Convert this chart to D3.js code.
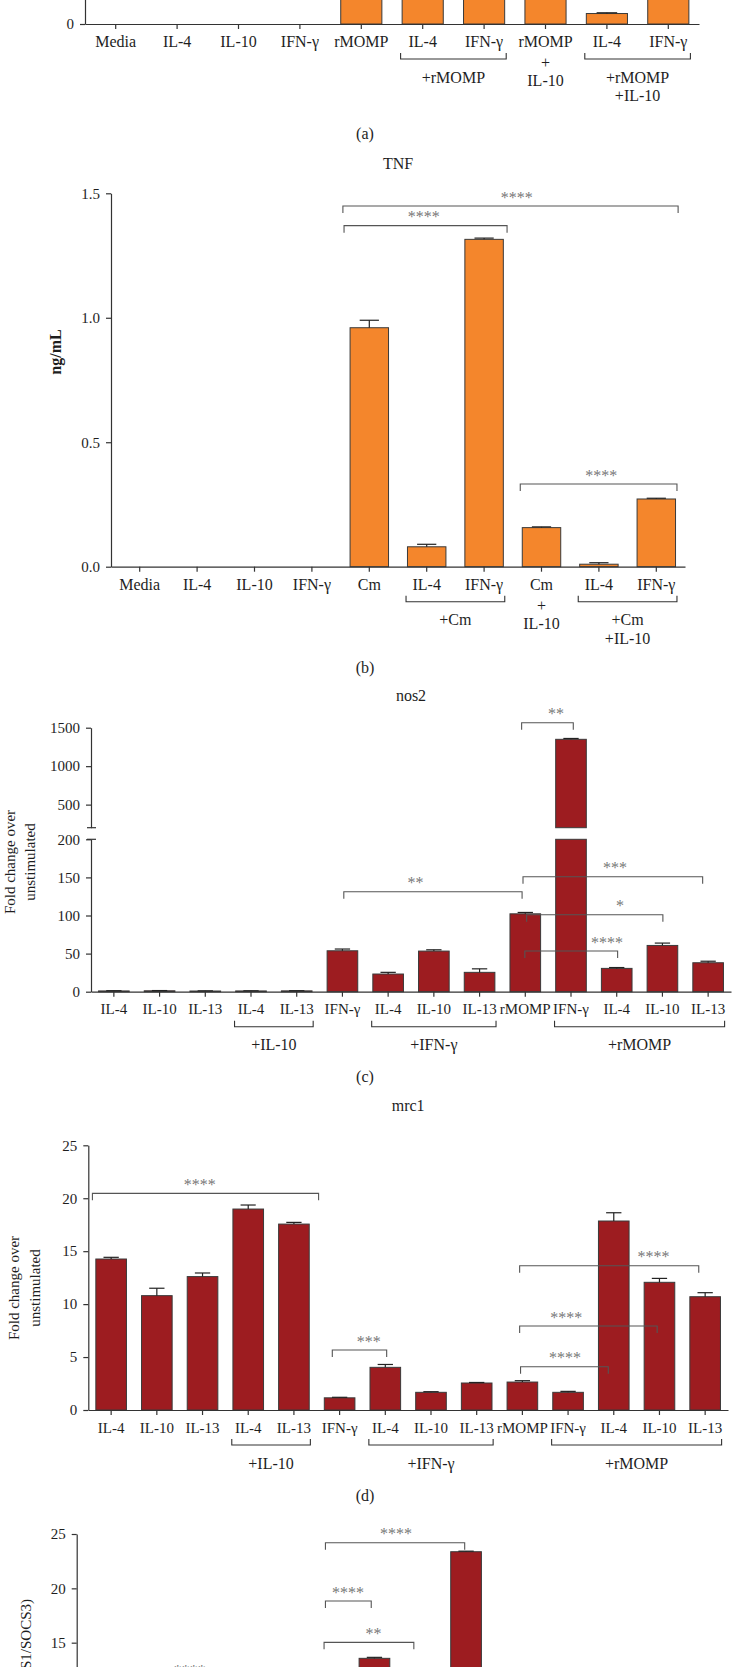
<!DOCTYPE html>
<html><head><meta charset="utf-8">
<script src="https://cdn.jsdelivr.net/npm/d3@7"></script>
<style>
body{margin:0;background:#fff;}
svg{display:block;}
text{font-family:"Liberation Serif","Times New Roman",serif;fill:#1e1e1e;}
</style>
</head><body>
<svg id="chart" width="732" height="1667"></svg>
<script>
// ---------- DATA ----------
// Panel (a) (cropped at top; only baseline region visible)
const catsA = ["Media","IL-4","IL-10","IFN-γ","rMOMP","IL-4","IFN-γ","rMOMP","IL-4","IFN-γ"];
const valsA = [0, 0, 0, 0, 1.10, 1.05, 1.20, 0.95, 0.042, 1.00];
const errsA = [0, 0, 0, 0, 1.12, 1.07, 1.22, 0.97, 0.045, 1.02];
const ticksA = [0];
const groupsA = [
  {from:5, to:6, lines:["+rMOMP"], bracket:true},
  {from:7, to:7, lines:["+","IL-10"], bracket:false},
  {from:8, to:9, lines:["+rMOMP","+IL-10"], bracket:true}
];

// Panel (b) TNF
const catsB = ["Media","IL-4","IL-10","IFN-γ","Cm","IL-4","IFN-γ","Cm","IL-4","IFN-γ"];
const valsB = [0, 0, 0, 0, 0.96, 0.08, 1.315, 0.157, 0.01, 0.272];
const errsB = [0, 0, 0, 0, 0.99, 0.09, 1.32, 0.16, 0.016, 0.275];
const ticksB = [0, 0.5, 1.0, 1.5];
const groupsB = [
  {from:5, to:6, lines:["+Cm"], bracket:true},
  {from:7, to:7, lines:["+","IL-10"], bracket:false},
  {from:8, to:9, lines:["+Cm","+IL-10"], bracket:true}
];
// [fromIndex, toIndex, level, label, labelIndex]
const sigB = [
  [3.54, 9.38, 1.449, "****", 6.57],
  [3.56, 6.40, 1.370, "****", 4.95],
  [6.63, 9.36, 0.332, "****", 8.04]
];

// Panels (c), (d), (e) categories
const catsCD = ["IL-4","IL-10","IL-13","IL-4","IL-13","IFN-γ","IL-4","IL-10","IL-13","rMOMP","IFN-γ","IL-4","IL-10","IL-13"];
const groupsCD = [
  {from:3, to:4, lines:["+IL-10"], bracket:true},
  {from:6, to:8, lines:["+IFN-γ"], bracket:true},
  {from:10, to:13, lines:["+rMOMP"], bracket:true}
];

// Panel (c) nos2 (broken axis)
const valsC = [1.0, 1.2, 0.9, 1.0, 1.1, 53.7, 23.2, 53.3, 25.4, 102.2, 1349, 30.6, 60.7, 38.0];
const errsC = [1.3, 1.5, 1.1, 1.2, 1.3, 56.0, 25.4, 55.0, 30.0, 104.0, 1360, 31.7, 63.8, 40.0];
const ticksCLow = [0, 50, 100, 150, 200];
const ticksCHigh = [500, 1000, 1500];
const sigC = [
  [8.92, 10.05, 1565, "**", 9.67],
  [5.03, 8.93, 131.2, "**", 6.60],
  [8.95, 12.88, 150.9, "***", 10.96],
  [9.03, 12.01, 101.0, "*", 11.07],
  [8.99, 11.02, 53.4, "****", 10.79]
];

// Panel (d) mrc1
const valsD = [14.26, 10.8, 12.6, 18.98, 17.56, 1.15, 4.03, 1.67, 2.55, 2.64, 1.67, 17.85, 12.06, 10.7];
const errsD = [14.42, 11.5, 12.94, 19.36, 17.72, 1.2, 4.3, 1.73, 2.6, 2.77, 1.76, 18.63, 12.43, 11.08];
const ticksD = [0, 5, 10, 15, 20, 25];
const sigD = [
  [-0.41, 4.54, 20.46, "****", 1.94],
  [4.84, 6.03, 5.67, "***", 5.64],
  [8.96, 10.88, 4.09, "****", 9.93],
  [8.94, 11.95, 7.93, "****", 9.96],
  [8.94, 12.86, 13.63, "****", 11.87]
];

// Panel (e) (cropped at bottom; only upper part visible)
const valsE = [null, null, null, null, null, null, 13.56, null, 23.37, null, null, null, null, null];
const errsE = [null, null, null, null, null, null, 13.65, null, 23.42, null, null, null, null, null];
const ticksE = [15, 20, 25];
const sigE = [
  [4.93, 7.97, 24.2, "****", 6.47],
  [4.93, 5.93, 18.83, "****", 5.42],
  [4.90, 6.86, 15.03, "**", 5.98],
  [0.0, 4.0, 11.66, "****", 1.97]
];

// ---------- DRAWING ----------
const FONT = '"Liberation Serif","Times New Roman",serif';
const ORANGE = "#f4862c";
const RED = "#9d1c20";
const H = 1667;
const svg = d3.select("#chart");

function drawPanel(o) {
  const g = svg.append("g");
  const n = o.cats.length;
  const x = d3.scaleBand().domain(d3.range(n)).range([o.x0, o.x1])
    .paddingInner(0.33).paddingOuter(0.165);
  const step = x.step(), bw = x.bandwidth();
  const cx = i => o.x0 + step * (i + 0.5);
  const segs = o.segs;
  segs.forEach(s => s.y = d3.scaleLinear().domain([s.lo, s.hi]).range([s.r0, s.r1]));
  const yOf = v => { const s = segs.find(s => v <= s.hi) || segs[segs.length - 1]; return s.y(v); };
  const base = segs[0].y(0);

  // bars
  o.vals.forEach((v, i) => {
    if (v == null) return;
    segs.forEach(s => {
      if (v <= s.lo) return;
      const top = s.y(Math.min(v, s.hi)), bot = s.y(s.lo);
      g.append("rect").attr("x", x(i)).attr("y", top).attr("width", bw)
        .attr("height", Math.max(0, bot - top))
        .attr("fill", o.color).attr("stroke", "#3a3a3a").attr("stroke-width", 1);
    });
    const e = o.errs[i];
    if (e != null && e > v) {
      const c = x(i) + bw / 2;
      g.append("line").attr("x1", c).attr("x2", c).attr("y1", yOf(v)).attr("y2", yOf(e))
        .attr("stroke", "#222").attr("stroke-width", 1.2);
      g.append("line").attr("x1", c - bw * 0.25).attr("x2", c + bw * 0.25).attr("y1", yOf(e)).attr("y2", yOf(e))
        .attr("stroke", "#222").attr("stroke-width", 1.2);
    }
  });

  // y axis (one per segment)
  segs.forEach(s => {
    const ax = g.append("g").attr("transform", `translate(${o.x0},0)`)
      .call(d3.axisLeft(s.y).tickValues(s.ticks).tickSize(5).tickSizeOuter(0).tickPadding(6)
        .tickFormat(o.fmt));
    ax.attr("font-family", FONT).attr("font-size", 15);
    ax.select(".domain").attr("stroke", "#333").attr("stroke-width", 1.2);
    ax.selectAll(".tick line").attr("stroke", "#333").attr("stroke-width", 1.2);
    ax.selectAll("text").attr("fill", "#1e1e1e");
  });
  if (segs.length > 1) {
    [segs[0].r1, segs[1].r0].forEach(yy => {
      g.append("line").attr("x1", o.x0 - 4).attr("x2", o.x0 + 5).attr("y1", yy).attr("y2", yy)
        .attr("stroke", "#333").attr("stroke-width", 1.2);
    });
  }

  // x axis (only when the baseline is inside the picture)
  if (base < H) {
    const xa = g.append("g").attr("transform", `translate(0,${base})`)
      .call(d3.axisBottom(x).tickFormat(i => o.cats[i]).tickSize(5).tickSizeOuter(0));
    xa.attr("font-family", FONT).attr("font-size", o.catSize || 16);
    xa.select(".domain").attr("stroke", "#333").attr("stroke-width", 1.2);
    xa.selectAll(".tick line").attr("stroke", "#333").attr("stroke-width", 1.2);
    xa.selectAll("text").attr("y", 17.5).attr("dy", "0.35em").attr("fill", "#1e1e1e");
  }

  // group brackets under the axis
  (o.groups || []).forEach(gr => {
    const xl = cx(gr.from) - 0.36 * step, xr = cx(gr.to) + 0.36 * step;
    const mid = (cx(gr.from) + cx(gr.to)) / 2;
    let ys;
    if (gr.bracket) {
      const yb = base + 35;
      g.append("path").attr("d", `M${xl},${yb - 6}V${yb}H${xr}V${yb - 6}`)
        .attr("fill", "none").attr("stroke", "#333").attr("stroke-width", 1.1);
      ys = [base + 53, base + 71.5];
    } else {
      ys = [base + 38.5, base + 56.5];
    }
    gr.lines.forEach((t, k) => {
      g.append("text").attr("x", mid).attr("y", ys[k]).attr("dy", "0.35em")
        .attr("text-anchor", "middle").attr("font-size", 16).text(t);
    });
  });

  // significance brackets
  (o.sig || []).forEach(([a, b, v, lab, lx]) => {
    const xl = cx(a), xr = cx(b), yb = yOf(v);
    g.append("path").attr("d", `M${xl},${yb + 7}V${yb}H${xr}V${yb + 7}`)
      .attr("fill", "none").attr("stroke", "#555").attr("stroke-width", 1.1);
    g.append("text").attr("x", cx(lx)).attr("y", yb - 11).attr("dy", "0.48em")
      .attr("text-anchor", "middle").attr("font-size", 16)
      .style("fill", "#777").text(lab);
  });

  // title
  if (o.title) {
    g.append("text").attr("x", (o.x0 + o.x1) / 2).attr("y", o.titleY).attr("dy", "0.35em")
      .attr("text-anchor", "middle").attr("font-size", 16).text(o.title);
  }
  // y labels
  (o.ylabels || []).forEach(l => {
    g.append("text").attr("transform", `translate(${l.x},${l.y}) rotate(-90)`)
      .attr("dy", "0.35em").attr("text-anchor", l.anchor || "middle")
      .attr("font-size", l.size || 15).attr("font-weight", l.weight || "normal").text(l.text);
  });
  // caption
  if (o.caption) {
    svg.append("text").attr("x", 365).attr("y", o.captionY).attr("dy", "0.35em")
      .attr("text-anchor", "middle").attr("font-size", 16).text(o.caption);
  }
}

drawPanel({
  cats: catsA, vals: valsA, errs: errsA, color: ORANGE,
  x0: 85, x1: 699,
  segs: [{lo: 0, hi: 1.5, r0: 24, r1: -350, ticks: ticksA}],
  fmt: d3.format("d"), groups: groupsA,
  caption: "(a)", captionY: 133
});

drawPanel({
  cats: catsB, vals: valsB, errs: errsB, color: ORANGE,
  x0: 111, x1: 685,
  segs: [{lo: 0, hi: 1.5, r0: 566.7, r1: 193.3, ticks: ticksB}],
  fmt: d3.format(".1f"), groups: groupsB, sig: sigB,
  title: "TNF", titleY: 163,
  ylabels: [{text: "ng/mL", x: 55, y: 352, size: 16, weight: "bold"}],
  caption: "(b)", captionY: 667
});

drawPanel({
  cats: catsCD, vals: valsC, errs: errsC, color: RED, catSize: 15,
  x0: 91, x1: 731,
  segs: [
    {lo: 0, hi: 200, r0: 991.7, r1: 839.3, ticks: ticksCLow},
    {lo: 200, hi: 1500, r0: 827.7, r1: 727.7, ticks: ticksCHigh}
  ],
  fmt: d3.format("d"), groups: groupsCD, sig: sigC,
  title: "nos2", titleY: 695.7,
  ylabels: [{text: "Fold change over", x: 10, y: 862}, {text: "unstimulated", x: 30, y: 862}],
  caption: "(c)", captionY: 1076.7
});

drawPanel({
  cats: catsCD, vals: valsD, errs: errsD, color: RED, catSize: 15,
  x0: 88.3, x1: 728,
  segs: [{lo: 0, hi: 25, r0: 1410, r1: 1145.3, ticks: ticksD}],
  fmt: d3.format("d"), groups: groupsCD, sig: sigD,
  title: "mrc1", titleY: 1105.7,
  ylabels: [{text: "Fold change over", x: 14, y: 1288}, {text: "unstimulated", x: 35, y: 1288}],
  caption: "(d)", captionY: 1495
});

drawPanel({
  cats: catsCD, vals: valsE, errs: errsE, color: RED,
  x0: 76.7, x1: 718,
  segs: [{lo: 0, hi: 25, r0: 1805.7, r1: 1534, ticks: ticksE}],
  fmt: d3.format("d"), sig: sigE,
  ylabels: [{text: "Ratio (SOCS1/SOCS3)", x: 25.5, y: 1599, anchor: "end"}]
});
</script>
</body></html>
